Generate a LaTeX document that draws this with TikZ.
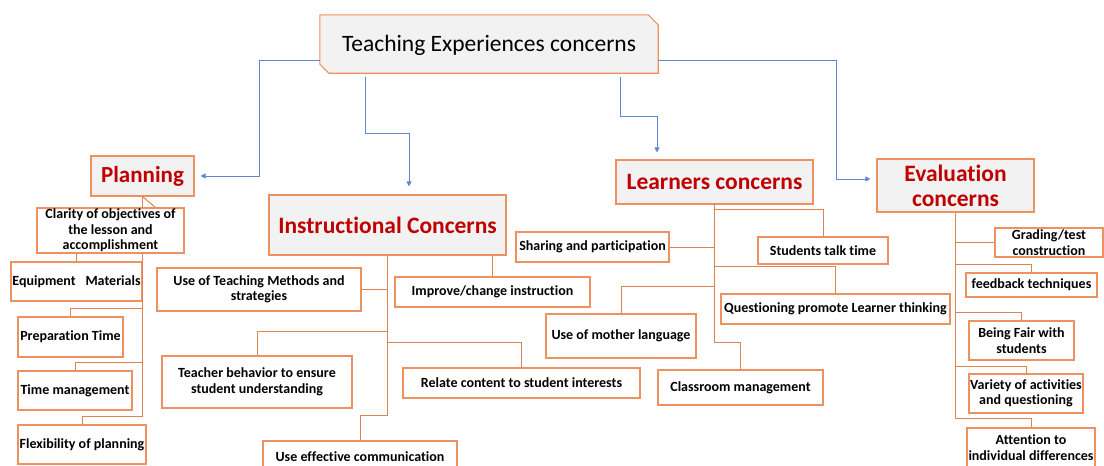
\documentclass[tikz,border=0pt]{standalone}
\usepackage{fontspec}
\setmainfont{Carlito}[Ligatures=NoCommon]
\usetikzlibrary{arrows.meta,backgrounds,calc}
\definecolor{obox}{RGB}{237,145,95}
\definecolor{ocon}{RGB}{222,132,82}
\definecolor{gbox}{RGB}{242,242,242}
\definecolor{bcol}{RGB}{95,135,210}
\definecolor{hred}{RGB}{192,0,0}
\begin{document}
\begin{tikzpicture}[x=1pt,y=-1pt,
  sbox/.style={draw=obox, line width=1.1pt, inner sep=0.5pt, align=center, fill=white,
    font=\bfseries\fontsize{14}{15.5}\selectfont},
  hbox/.style={draw=obox, line width=1.1pt, inner sep=1pt, align=center, fill=gbox,
    text=hred, font=\bfseries\fontsize{23.5}{25}\selectfont},
  conn/.style={draw=ocon, line width=1pt},
  barrow/.style={draw=bcol, line width=0.7pt, -{Triangle[length=5pt,width=5pt]}}]
\useasboundingbox (0,0) rectangle (1104,466);

% top node
\node[font=\fontsize{23.5}{25}\selectfont, minimum width=342pt, minimum height=58pt, inner sep=0pt] (top) at (489,45) {Teaching Experiences concerns};
\begin{scope}[on background layer]
\filldraw[fill=gbox, draw=obox, line width=1.1pt] ($(top.north west)+(2,-1)$) -- ($(top.north east)+(-12,-1)$) -- ($(top.north east)+(-2,9)$) -- ($(top.south east)+(-2,-1)$) -- ($(top.south west)+(11,-1)$) -- ($(top.south west)+(2,-10)$) -- cycle;
\end{scope}

% headings
\node[hbox, font=\bfseries\fontsize{23}{25}\selectfont, minimum width=103pt, minimum height=40pt] (plan) at (142.5,176) {Planning};
\node[hbox, minimum width=237pt, minimum height=60pt] (instr) at (387.5,225) {Instructional Concerns};
\node[hbox, minimum width=197pt, minimum height=44pt] (learn) at (714.5,182) {Learners concerns};
\node[hbox, minimum width=157pt, minimum height=53pt] (eval) at (955.5,185.5) {Evaluation\\concerns};

% planning items
\node[sbox, minimum width=147pt, minimum height=45pt] (clar) at (110.5,230.5) {Clarity of objectives of\\the lesson and\\accomplishment};
\node[sbox, minimum width=131pt, minimum height=39pt] (equip) at (76.5,281.5) {Equipment\hspace{0.7em}Materials};
\node[sbox, minimum width=105pt, minimum height=40pt] (prep) at (70.5,337) {Preparation Time};
\node[sbox, minimum width=114pt, minimum height=39pt] (tman) at (75,390.5) {Time management};
\node[sbox, minimum width=128pt, minimum height=39pt] (flex) at (82,444.5) {Flexibility of planning};

% instructional items
\node[sbox, minimum width=204pt, minimum height=43pt] (utm) at (259,289.5) {Use of Teaching Methods and\\strategies};
\node[sbox, minimum width=195pt, minimum height=30pt] (impr) at (492.5,292) {Improve/change instruction};
\node[sbox, minimum width=190pt, minimum height=52pt] (tbeh) at (257,382) {Teacher behavior to ensure\\student understanding};
\node[sbox, minimum width=237pt, minimum height=30pt] (rel) at (521.5,383) {Relate content to student interests};
\node[sbox, minimum width=194pt, minimum height=32pt] (comm) at (360,457) {Use effective communication};

% learners items
\node[sbox, minimum width=130pt, minimum height=27pt] (stt) at (823,250.5) {Students talk time};
\node[sbox, minimum width=153pt, minimum height=30pt] (share) at (592.5,247) {Sharing and participation};
\node[sbox, minimum width=229pt, minimum height=30pt] (ques) at (835.5,309) {Questioning promote Learner thinking};
\node[sbox, minimum width=150pt, minimum height=44pt] (moth) at (621,336) {Use of mother language};
\node[sbox, minimum width=165pt, minimum height=35pt] (cls) at (740.5,387.5) {Classroom management};

% evaluation items
\node[sbox, minimum width=108pt, minimum height=29pt] (grad) at (1049,242.5) {Grading/test\\construction};
\node[sbox, minimum width=131pt, minimum height=24pt] (feed) at (1031.5,285) {feedback techniques};
\node[sbox, minimum width=105pt, minimum height=39pt] (fair) at (1021.5,340.5) {Being Fair with\\students};
\node[sbox, minimum width=114pt, minimum height=39pt] (vari) at (1026,393.5) {Variety of activities\\and questioning};
\node[sbox, minimum width=128pt, minimum height=39pt] (att) at (1031,447.5) {Attention to\\individual differences};

% planning connectors
\draw[conn] (plan.south) -- (plan.south |- clar.north);
\draw[conn] (plan.south) -- ($(plan.south |- clar.north)+(13,0)$);
\draw[conn] (clar.south -| equip.east) -- ($(flex.north -| equip.east)+(0,-8)$) -| (flex.north);
\draw[conn] (equip.north) -- (equip.north |- clar.south);
\draw[conn] ($(prep.north -| equip.east)+(0,-8)$) -| (prep.north);
\draw[conn] ($(tman.north -| equip.east)+(0,-8)$) -| (tman.north);

% instructional connectors
\draw[conn] (instr.south) -- ($(comm.north -| instr.south)+(0,-25)$) -| (comm.north);
\draw[conn] (utm.east) -- (utm.east -| instr.south);
\draw[conn] (impr.north) -- (impr.north |- instr.south);
\draw[conn] ($(tbeh.north -| instr.south)+(0,-24)$) -| (tbeh.north);
\draw[conn] ($(rel.north -| instr.south)+(0,-25)$) -| (rel.north);

% learners connectors
\draw[conn] (learn.south) -- ($(cls.north -| learn.south)+(0,-27)$) -| (cls.north);
\draw[conn] ($(stt.north -| learn.south)+(0,-27)$) -| (stt.north);
\draw[conn] ($(ques.north -| learn.south)+(0,-27)$) -| (ques.north);
\draw[conn] ($(moth.north -| learn.south)+(0,-27)$) -| (moth.north);
\draw[conn] (share.east) -- (share.east -| learn.south);

% evaluation connectors
\draw[conn] (eval.south) -- ($(att.north -| eval.south)+(0,-9)$) -| (att.north);
\draw[conn] (grad.west) -- (grad.west -| eval.south);
\draw[conn] ($(feed.north -| eval.south)+(0,-8)$) -| (feed.north);
\draw[conn] ($(fair.north -| eval.south)+(0,-8)$) -| (fair.north);
\draw[conn] ($(vari.north -| eval.south)+(0,-7)$) -| (vari.north);

% blue arrows
\coordinate (b1) at (259,60);
\draw[barrow] ($(top.west)+(2,15)$) -- (b1) |- ($(plan.east)+(6,0)$);
\coordinate (b2s) at (365,77);
\coordinate (b2m) at (409,133);
\draw[barrow] (b2s) |- (b2m) -- ($(b2m |- instr.north)+(0,-8)$);
\coordinate (b3s) at (620,77);
\coordinate (b3m) at (657,116);
\draw[barrow] (b3s) |- (b3m) -- ($(b3m |- learn.north)+(0,-7)$);
\coordinate (b4) at (836,179);
\draw[barrow] ($(top.east)+(-2,15)$) -| (b4) -- ($(b4 -| eval.west)+(-6,0)$);
\end{tikzpicture}
\end{document}
